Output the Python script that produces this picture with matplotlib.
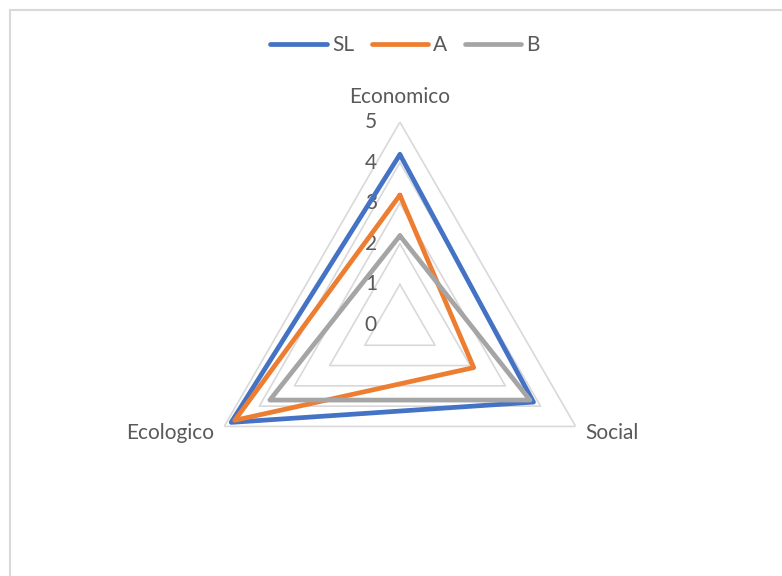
import matplotlib.pyplot as plt
import numpy as np
from matplotlib.patches import Rectangle
from matplotlib.transforms import offset_copy

plt.rcParams['font.family'] = ['Lato', 'DejaVu Sans']

# ==== data ====
categories = ["Economico", "Social", "Ecologico"]
sl_values = [4.2, 3.8, 4.8]
a_values = [3.2, 2.1, 4.7]
b_values = [2.2, 3.7, 3.7]
series_names = ["SL", "A", "B"]
tick_levels = [0, 1, 2, 3, 4, 5]

colors = ["#4472C4", "#ED7D31", "#A5A5A5"]
text_col = "#595959"
grid_col = "#D9D9D9"

fig = plt.figure(figsize=(7.82, 5.76), dpi=100)

# chart frame
fig.patches.append(Rectangle((10 / 782, -0.1), 1.2, 1.1 - 10 / 576, transform=fig.transFigure,
                             fill=False, edgecolor="#D9D9D9", linewidth=1.5))

ax = fig.add_axes([0.2519, 0.0833, 0.519, 0.705], projection="polar")
ax.set_theta_offset(np.pi / 2)
ax.set_theta_direction(-1)
ax.set_ylim(0, 5)
ax.grid(False)
ax.spines["polar"].set_visible(False)
ax.set_xticks([])
ax.set_yticks([])
ax.patch.set_alpha(0)

angles = np.linspace(0, 2 * np.pi, len(categories), endpoint=False)
closed = np.concatenate([angles, angles[:1]])

# polygon grid
for lvl in tick_levels[1:]:
    ax.plot(closed, [lvl] * len(closed), color=grid_col, linewidth=1.2, zorder=1)

# series
for name, vals, c in zip(series_names, [sl_values, a_values, b_values], colors):
    ax.plot(closed, vals + vals[:1], color=c, linewidth=3.4, label=name,
            solid_joinstyle="round", solid_capstyle="round", zorder=3)

# value labels along top axis
tick_tr = offset_copy(ax.transData, fig=fig, x=-23, y=0, units="dots")
for lvl in tick_levels:
    ax.text(0, lvl, str(lvl), transform=tick_tr, ha="right", va="center",
            fontsize=15, color=text_col, zorder=2)

# category labels
offsets = [(0, 25, "center", "center"), (10, -7, "left", "center"), (-10, -7, "right", "center")]
for ang, cat, (dx, dy, ha, va) in zip(angles, categories, offsets):
    tr = offset_copy(ax.transData, fig=fig, x=dx, y=dy, units="dots")
    ax.text(ang, 5, cat, transform=tr, ha=ha, va=va, fontsize=15, color=text_col)

ax.set_rorigin(0)
fig.legend(loc="center", bbox_to_anchor=(0.518, 1 - 45 / 576), ncol=3, frameon=False,
           fontsize=15, handlelength=2.7, handletextpad=0.25, columnspacing=0.85,
           labelcolor=text_col)

fig.savefig("out.png", dpi=100)
